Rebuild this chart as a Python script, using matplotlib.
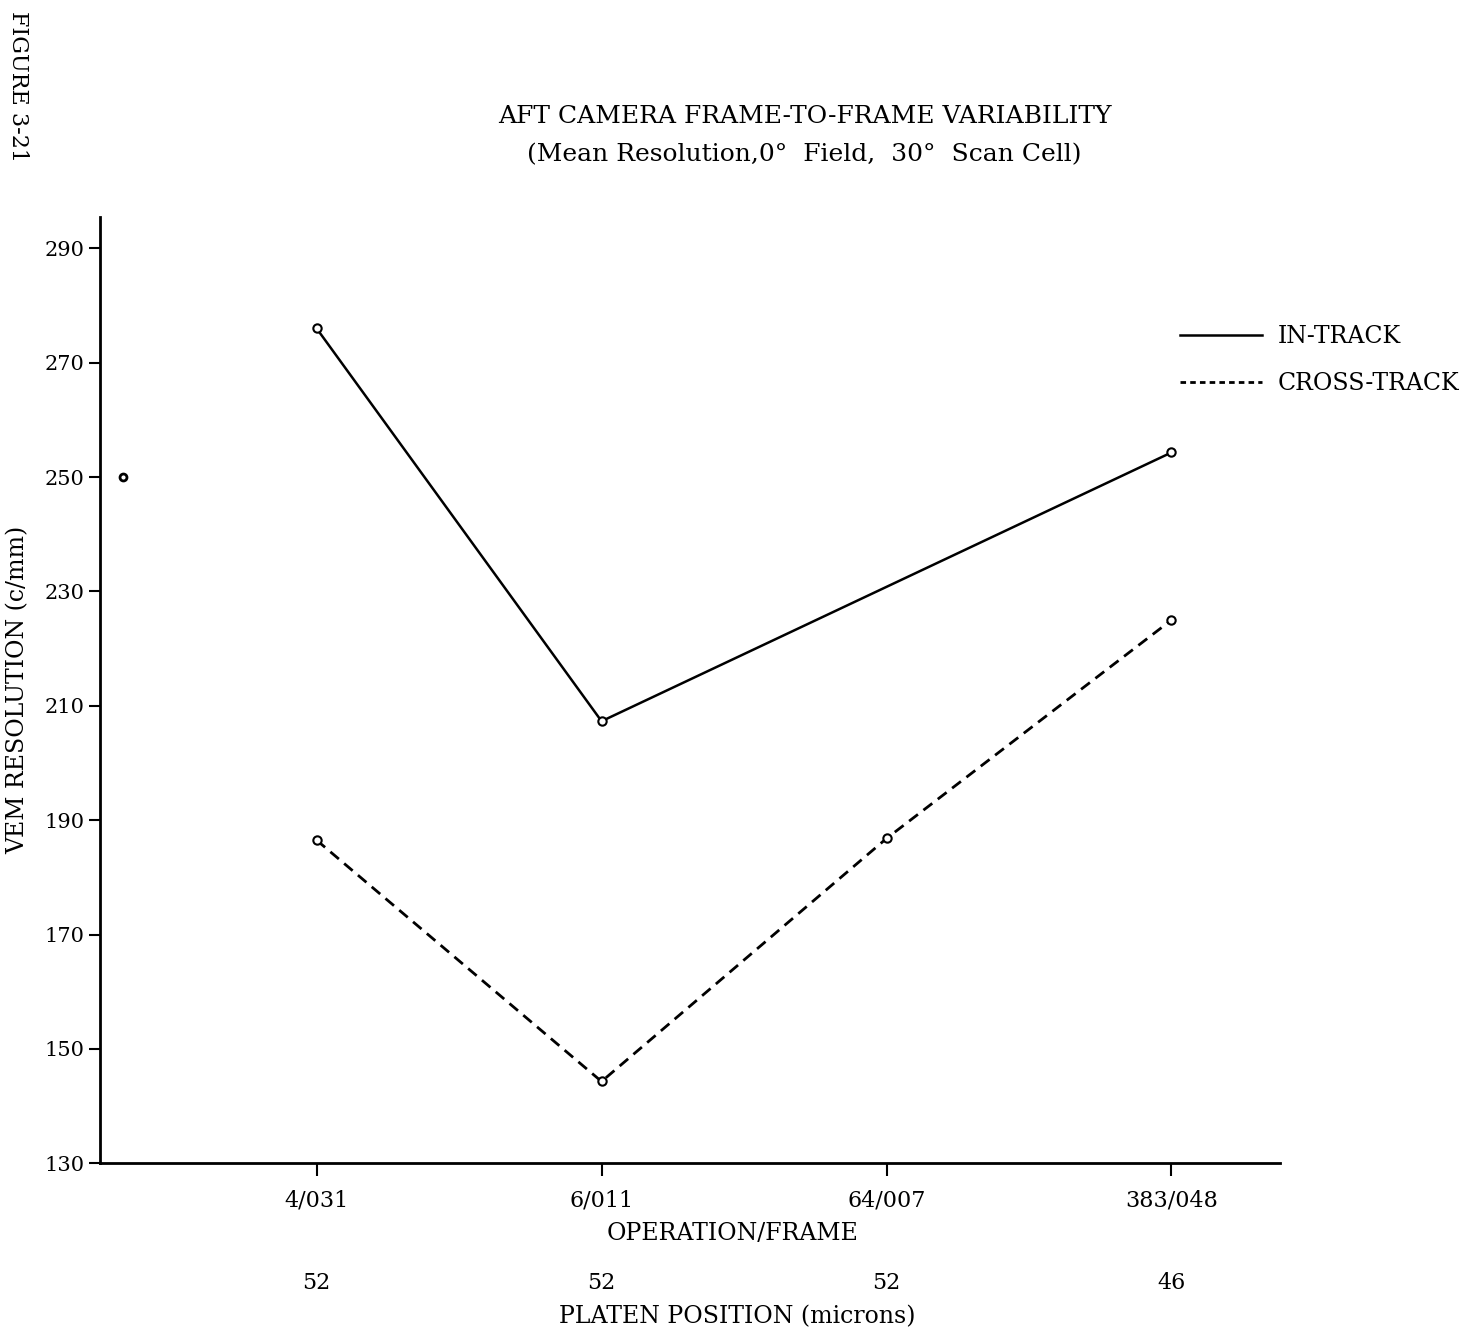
import numpy as np
import matplotlib.pyplot as plt
from matplotlib.lines import Line2D

# Aft camera frame-to-frame variability, mean resolution
frames = ['4/031', '6/011', '64/007', '383/048']
platen = ['52', '52', '52', '46']
in_track = [276, 207.3, None, 254.3]      # no in-track reading at 64/007
cross_track = [186.5, 144.3, 186.8, 225]
lone_x, lone_y = 0.32, 250
yticks = [130, 150, 170, 190, 210, 230, 250, 270, 290]

plt.rcParams['font.family'] = ['DejaVu Serif']
fig = plt.figure(figsize=(14.71, 13.34), dpi=100)
ax = fig.add_axes([0.068, 0.128, 0.802, 0.709])

x = np.arange(1, len(frames) + 1)
it = np.array([np.nan if v is None else v for v in in_track], dtype=float)
ok = ~np.isnan(it)
ax.plot(x[ok], it[ok], '-', color='black', lw=1.8, marker='o', ms=6,
        mfc='white', mec='black', mew=1.5)
ax.plot(x, cross_track, '--', color='black', lw=2.0, dashes=(4, 2.5), marker='o',
        ms=6, mfc='white', mec='black', mew=1.5)
ax.plot([lone_x], [lone_y], 'o', color='black', ms=5, mfc='white', mew=2)

ax.set_xlim(0.24, 4.38)
ax.set_ylim(130, 295.4)
ax.set_yticks(yticks)
ax.set_yticklabels([str(t) for t in yticks], fontsize=15)
ax.set_xticks(x)
ax.set_xticklabels(frames, fontsize=16)
ax.tick_params(axis='y', direction='out', length=8, width=1.5, pad=3)
ax.tick_params(axis='x', direction='out', length=9, width=1.5, pad=10)
for side in ['top', 'right']:
    ax.spines[side].set_visible(False)
for side in ['left', 'bottom']:
    ax.spines[side].set_linewidth(2)

ax.set_xlabel('OPERATION/FRAME', fontsize=17)
ax.xaxis.set_label_coords(0.536, -0.062)
ax.set_ylabel('VEM RESOLUTION (c/mm)', fontsize=17)
ax.yaxis.set_label_coords(-0.06, 0.5)

# platen position row under the frame labels
for xi, p in zip(x, platen):
    ax.annotate(p, xy=(xi, 0), xycoords=('data', 'axes fraction'),
                xytext=(0, -120), textcoords='offset pixels',
                ha='center', va='center', fontsize=16)
ax.annotate('PLATEN POSITION (microns)', xy=(0.54, 0), xycoords='axes fraction',
            xytext=(0, -153), textcoords='offset pixels',
            ha='center', va='center', fontsize=17)

handles = [Line2D([], [], color='black', lw=1.8),
           Line2D([], [], color='black', lw=2.0, ls='--', dashes=(2, 1.5))]
fig.legend(handles, ['IN-TRACK', 'CROSS-TRACK'], loc='upper left',
           bbox_to_anchor=(0.802, 0.756), frameon=False, fontsize=17,
           handlelength=3.5, handletextpad=0.65, labelspacing=1.0,
           borderpad=0, borderaxespad=0)

fig.text(0.547, 0.913, 'AFT CAMERA FRAME-TO-FRAME VARIABILITY',
         ha='center', va='center', fontsize=18)
fig.text(0.547, 0.884, '(Mean Resolution,0\u00b0  Field,  30\u00b0  Scan Cell)',
         ha='center', va='center', fontsize=18)
fig.text(0.012, 0.935, 'FIGURE 3-21', rotation=-90, ha='center', va='center',
         fontsize=16)

fig.savefig('out.png', dpi=100)
